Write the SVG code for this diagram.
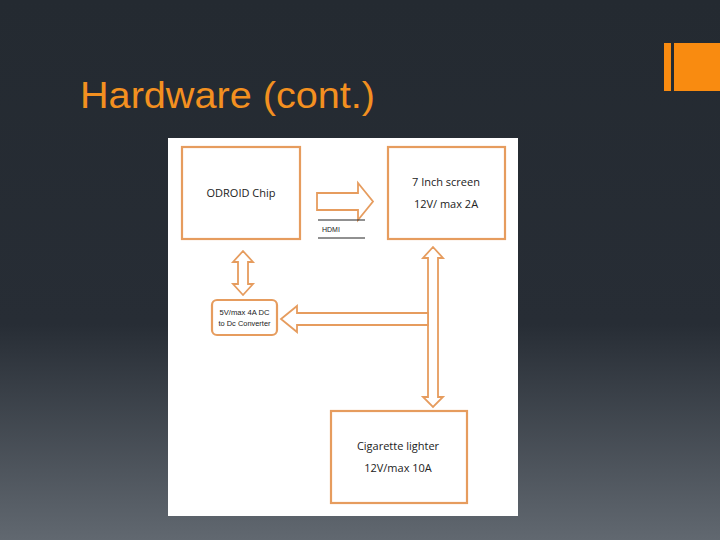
<svg xmlns="http://www.w3.org/2000/svg" width="720" height="540" viewBox="0 0 720 540">
<defs>
<linearGradient id="bg" x1="0" y1="0" x2="0" y2="1">
<stop offset="0" stop-color="#242a31"/>
<stop offset="0.6" stop-color="#272d35"/>
<stop offset="1" stop-color="#616870"/>
</linearGradient>
<style>
.box{fill:#fff;stroke:#e69c5e;stroke-width:2.2}
.arr{fill:#fff;stroke:#e69c5e;stroke-width:1.8;stroke-linejoin:miter}
.t{font-family:"Segoe UI","Open Sans","Liberation Sans",sans-serif;fill:#222;font-size:11px}
.s{font-family:"Liberation Sans",sans-serif;fill:#222;font-size:7px}
</style>
</defs>
<rect x="0" y="0" width="720" height="540" fill="url(#bg)"/>
<rect x="664" y="43" width="7" height="48" fill="#f98b10"/>
<rect x="674" y="43" width="46" height="48" fill="#f98b10"/>
<text x="80" y="108" font-family="Liberation Sans, Arial, sans-serif" font-size="36" fill="#f39020" textLength="295" lengthAdjust="spacingAndGlyphs">Hardware (cont.)</text>
<rect x="168" y="138" width="350" height="378" fill="#fff"/>
<g id="odroid">
<rect class="box" x="182" y="147" width="118" height="92"/>
<text class="t" x="241" y="197" text-anchor="middle">ODROID Chip</text>
</g>
<g id="screen">
<rect class="box" x="388" y="147" width="117" height="92"/>
<text class="t" x="446" y="186" text-anchor="middle">7 Inch screen</text>
<text class="t" x="446" y="208" text-anchor="middle">12V/ max 2A</text>
</g>
<g id="converter">
<rect class="box" x="212" y="300" width="65" height="35" rx="5"/>
<text class="s" x="244.5" y="315" text-anchor="middle" textLength="50" lengthAdjust="spacingAndGlyphs">5V/max 4A DC</text>
<text class="s" x="244.5" y="326" text-anchor="middle" textLength="52" lengthAdjust="spacingAndGlyphs">to Dc Converter</text>
</g>
<g id="lighter">
<rect class="box" x="331" y="411" width="136" height="92"/>
<text class="t" x="398" y="450" text-anchor="middle">Cigarette lighter</text>
<text class="t" x="398" y="472" text-anchor="middle">12V/max 10A</text>
</g>
<g id="connectors">
<polygon class="arr" points="317,193 358,193 358,183 373,201.5 358,220 358,210 317,210"/>
<line x1="318" y1="220" x2="365" y2="220" stroke="#222" stroke-width="1"/>
<line x1="318" y1="238" x2="365" y2="238" stroke="#222" stroke-width="1"/>
<text class="s" x="322" y="232" font-size="6">HDMI</text>
<polygon class="arr" points="243,251 253,262 248,262 248,284 253,284 243,295 233,284 238,284 238,262 233,262"/>
<polygon class="arr" points="433,247 443,258 438,258 438,397 443,397 433,407 423,397 428,397 428,258 423,258"/>
<polygon class="arr" points="428,313 297,313 297,306 281,319 297,332 297,325 428,325"/>
</g>
</svg>
